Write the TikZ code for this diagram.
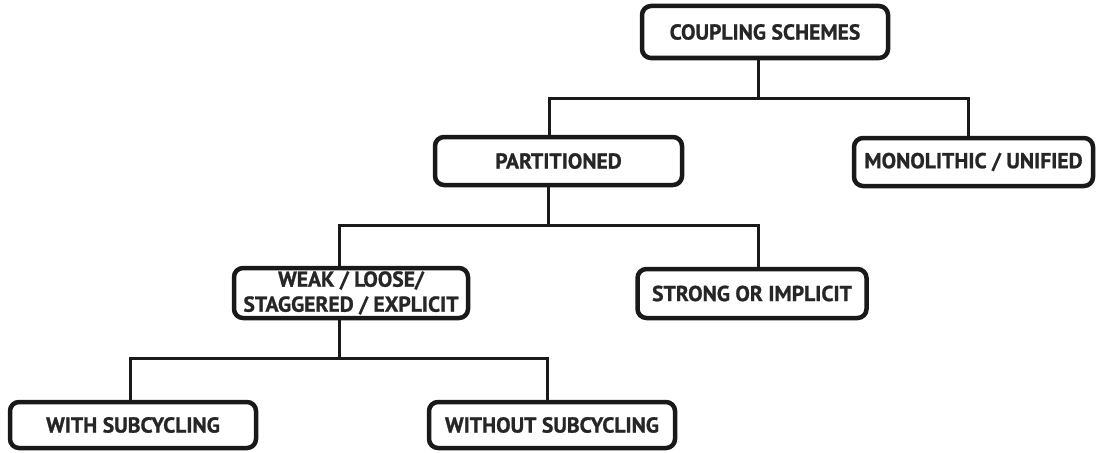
\documentclass[tikz,border=0pt]{standalone}
\usepackage{fontspec}
\setmainfont{PT Sans}[BoldFeatures={FakeBold=1}]
\begin{document}
\begin{tikzpicture}[x=1pt,y=-1pt,
  tbox/.style={draw=black!90, line width=4.5pt, rounded corners=9pt, inner sep=0pt,
    align=center, font=\fontsize{21.6}{25}\selectfont\bfseries, text=black!85},
  conn/.style={draw=black!90, line width=3pt}]
\useasboundingbox (0,0) rectangle (1099,452);

% boxes of the tree
\node[tbox, minimum width=246pt, minimum height=52pt] (cs) at (765,32) {COUPLING SCHEMES};
\node[tbox, minimum width=247pt, minimum height=48pt] (part) at (558.5,161) {PARTITIONED};
\node[tbox, minimum width=239pt, minimum height=48pt] (mono) at (973.5,162) {MONOLITHIC / UNIFIED};
\node[tbox, minimum width=234pt, minimum height=50pt] (weak) at (351,293) {WEAK / LOOSE/\\STAGGERED / EXPLICIT};
\node[tbox, minimum width=229pt, minimum height=49pt] (strong) at (752,293.5) {STRONG OR IMPLICIT};
\node[tbox, minimum width=246pt, minimum height=46pt] (with) at (133,425) {WITH SUBCYCLING};
\node[tbox, minimum width=246pt, minimum height=46pt] (without) at (552,425) {WITHOUT SUBCYCLING};

% branching points
\coordinate (t1) at (758,98);
\coordinate (t1l) at (549,98);
\coordinate (t1r) at (968,98);
\coordinate (t2) at (548,225);
\coordinate (t2l) at (339,225);
\coordinate (t2r) at (758,225);
\coordinate (t3) at (339,358);
\coordinate (t3l) at (130,358);
\coordinate (t3r) at (547,358);

% connectors
\draw[conn] (cs.south -| t1) -- (t1);
\draw[conn] (part.north -| t1l) -- (t1l) -- (t1r) -- (mono.north -| t1r);
\draw[conn] (part.south -| t2) -- (t2);
\draw[conn] (weak.north -| t2l) -- (t2l) -- (t2r) -- (strong.north -| t2r);
\draw[conn] (weak.south -| t3) -- (t3);
\draw[conn] (with.north -| t3l) -- (t3l) -- (t3r) -- (without.north -| t3r);
\end{tikzpicture}
\end{document}
